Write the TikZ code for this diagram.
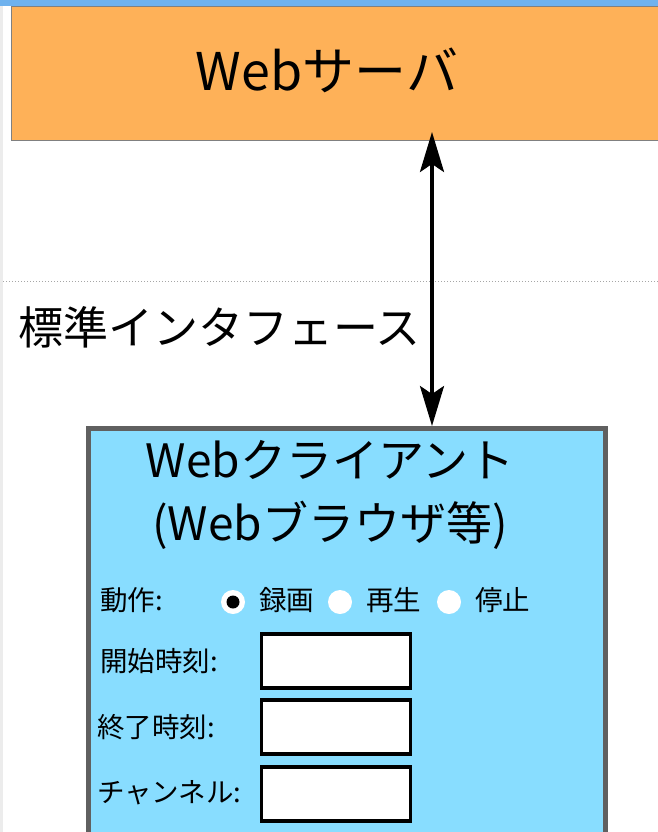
\documentclass[tikz,border=0pt]{standalone}
\usepackage{fontspec}
\newfontfamily\jpfont{Noto Sans CJK JP}
\usetikzlibrary{arrows.meta}

\definecolor{servercol}{RGB}{254,177,88}
\definecolor{clientcol}{RGB}{136,221,255}
\definecolor{barcol}{RGB}{111,178,238}
\definecolor{rimcol}{RGB}{96,96,96}

\tikzset{
    serverbox/.style={draw=gray, line width=1.2pt, fill=servercol, anchor=north west,
        minimum width=680pt, minimum height=134pt, inner sep=0pt},
    clientbox/.style={draw=rimcol, line width=4.5pt, fill=clientcol, anchor=north west,
        minimum width=517pt, minimum height=480pt, inner sep=0pt},
    bigtext/.style={font=\jpfont\fontsize{46}{63}\selectfont, inner sep=0pt},
    smalltext/.style={font=\jpfont\fontsize{27.5}{30}\selectfont, anchor=west, inner sep=0pt},
    radio/.style={circle, fill=white, minimum size=24pt, inner sep=0pt},
    field/.style={draw, line width=3.2pt, fill=white, minimum width=149pt,
        minimum height=54pt, inner sep=0pt},
    link/.style={line width=3.5pt, {Stealth[length=40pt, width=24pt, inset=8pt]}-{Stealth[length=40pt, width=24pt, inset=8pt]}},
}

\begin{document}
\begin{tikzpicture}[x=1pt, y=-1pt]
    \useasboundingbox (0,0) rectangle (658,832);
    \clip (0,0) rectangle (658,832);
    \fill [white] (0,0) rectangle (658,832);
    \fill [barcol] (0,0) rectangle (658,6);
    \fill [gray!15] (0,6) rectangle (3,832);

    % server side
    \node [serverbox] (server) at (11,6) {};
    \node [bigtext, font=\jpfont\fontsize{52}{60}\selectfont] (srvname) at (327,70) {Webサーバ};

    % interface
    \coordinate (sepL) at (3,281);
    \coordinate (sepR) at (658,281);
    \draw [gray!70, dotted, line width=1pt] (sepL) -- (sepR);
    \node [bigtext, anchor=west, font=\jpfont\fontsize{45}{50}\selectfont] (iface) at (18,327) {標準インタフェース};

    % client side
    \node [clientbox] (client) at (86,426) {};
    \node [bigtext, align=center] (cliname) at (330,495) {Webクライアント\\(Webブラウザ等)};

    \coordinate (armtop) at (432,132);
    \draw [link] (armtop) -- (armtop |- client.north);

    \node [smalltext] (oplabel) at (100,600) {動作:};
    \node [radio] (rec) at (233,602) {};
    \fill (rec) circle (6.5pt);
    \node [smalltext] (reclabel) at (259,600) {録画};
    \node [radio] (play) at (340,602) {};
    \node [smalltext] (playlabel) at (366,600) {再生};
    \node [radio] (stop) at (449,602) {};
    \node [smalltext] (stoplabel) at (475,600) {停止};

    \node [smalltext] (startlabel) at (100,661) {開始時刻:};
    \node [field] (start) at (336,661) {};
    \node [smalltext] (endlabel) at (97,727) {終了時刻:};
    \node [field] (end) at (336,727) {};
    \node [smalltext] (chlabel) at (97,793) {チャンネル:};
    \node [field] (channel) at (336,794) {};
\end{tikzpicture}
\end{document}
